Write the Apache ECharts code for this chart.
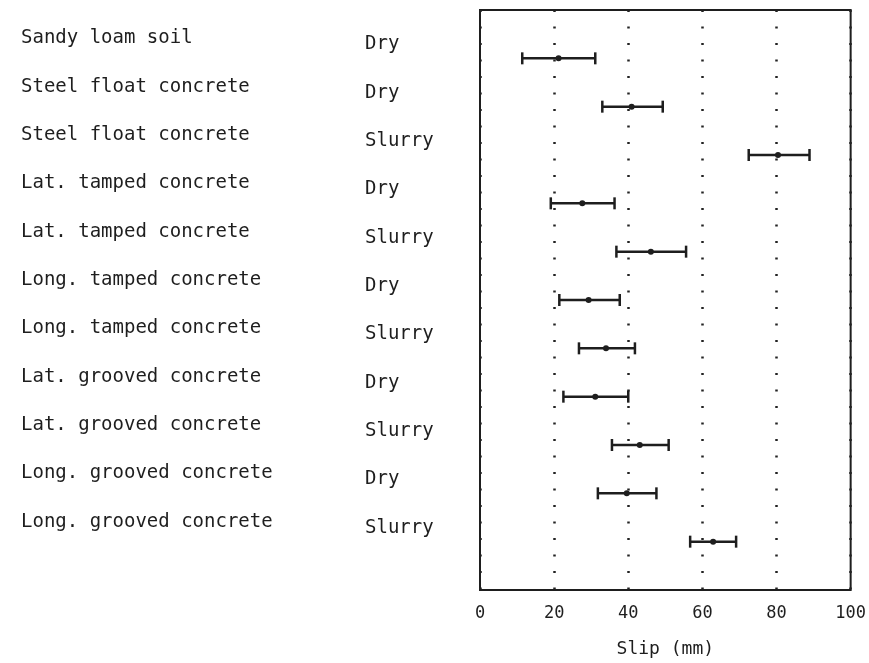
<!DOCTYPE html>
<html>
<head>
<meta charset="utf-8">
<script src="https://cdn.jsdelivr.net/npm/echarts@6/dist/echarts.min.js"></script>
<style>
  html, body { margin: 0; padding: 0; background: #fff; }
  #chart { width: 869px; height: 663px; }
</style>
</head>
<body>
<div id="chart"></div>
<script>
// surface / condition for each row, top to bottom
var surfaces = [
  'Sandy loam soil',
  'Steel float concrete',
  'Steel float concrete',
  'Lat. tamped concrete',
  'Lat. tamped concrete',
  'Long. tamped concrete',
  'Long. tamped concrete',
  'Lat. grooved concrete',
  'Lat. grooved concrete',
  'Long. grooved concrete',
  'Long. grooved concrete'
]
var conditions = ['Dry', 'Dry', 'Slurry', 'Dry', 'Slurry', 'Dry', 'Slurry', 'Dry', 'Slurry', 'Dry', 'Slurry']

// slip (mm): range low, mean, range high
var slipLow = [11.4, 33.0, 72.5, 19.1, 36.8, 21.4, 26.7, 22.5, 35.6, 31.8, 56.7]
var slipMean = [21.2, 40.9, 80.4, 27.6, 46.1, 29.3, 34.0, 31.1, 43.1, 39.6, 62.9]
var slipHigh = [31.1, 49.3, 88.9, 36.3, 55.6, 37.7, 41.8, 40.0, 50.9, 47.6, 69.1]

var xTicks = [0, 20, 40, 60, 80, 100]

var ink = '#1e1e1e'
var mono = '"DejaVu Sans Mono", monospace'

var barData = surfaces.map(function (s, i) {
  return [i, slipLow[i], slipMean[i], slipHigh[i]]
})
var labelData = surfaces.map(function (s, i) {
  return [0, i]
})

var chart = echarts.init(document.getElementById('chart'))

chart.setOption({
  animation: false,
  grid: {
    left: 480,
    right: 14,
    top: 10,
    bottom: 73,
    show: true,
    borderColor: ink,
    borderWidth: 2,
    backgroundColor: 'transparent'
  },
  xAxis: {
    type: 'value',
    min: xTicks[0],
    max: xTicks[xTicks.length - 1],
    interval: 20,
    name: 'Slip (mm)',
    nameLocation: 'middle',
    nameGap: 50,
    nameTextStyle: { fontFamily: mono, fontSize: 18, color: ink },
    axisLine: { show: false },
    axisTick: { show: false },
    axisLabel: { fontFamily: mono, fontSize: 17, color: ink, margin: 15 },
    splitLine: {
      show: true,
      lineStyle: { color: '#222', width: 2.5, type: [2, 14.5] }
    }
  },
  yAxis: {
    type: 'value',
    inverse: true,
    min: -1,
    max: 11,
    show: false
  },
  series: [
    {
      type: 'custom',
      name: 'labels',
      silent: true,
      data: labelData,
      encode: { x: 0, y: 1 },
      renderItem: function (params, api) {
        var i = api.value(1)
        var y = api.coord([0, i])[1]
        return {
          type: 'group',
          children: [
            {
              type: 'text',
              style: {
                text: surfaces[i],
                x: 21,
                y: y - 20,
                fill: ink,
                fontFamily: mono,
                fontSize: 19,
                align: 'left',
                verticalAlign: 'middle'
              }
            },
            {
              type: 'text',
              style: {
                text: conditions[i],
                x: 365,
                y: y - 14,
                fill: ink,
                fontFamily: mono,
                fontSize: 19,
                align: 'left',
                verticalAlign: 'middle'
              }
            }
          ]
        }
      }
    },
    {
      type: 'custom',
      name: 'slip',
      data: barData,
      encode: { x: [1, 2, 3], y: 0 },
      renderItem: function (params, api) {
        var i = api.value(0)
        var lo = api.coord([api.value(1), i])
        var mid = api.coord([api.value(2), i])
        var hi = api.coord([api.value(3), i])
        var cap = 6
        var st = { stroke: ink, lineWidth: 2.5 }
        return {
          type: 'group',
          children: [
            { type: 'line', shape: { x1: lo[0], y1: lo[1], x2: hi[0], y2: hi[1] }, style: st },
            { type: 'line', shape: { x1: lo[0], y1: lo[1] - cap, x2: lo[0], y2: lo[1] + cap }, style: st },
            { type: 'line', shape: { x1: hi[0], y1: hi[1] - cap, x2: hi[0], y2: hi[1] + cap }, style: st },
            { type: 'circle', shape: { cx: mid[0], cy: mid[1], r: 3 }, style: { fill: ink } }
          ]
        }
      }
    }
  ]
})
</script>
</body>
</html>
